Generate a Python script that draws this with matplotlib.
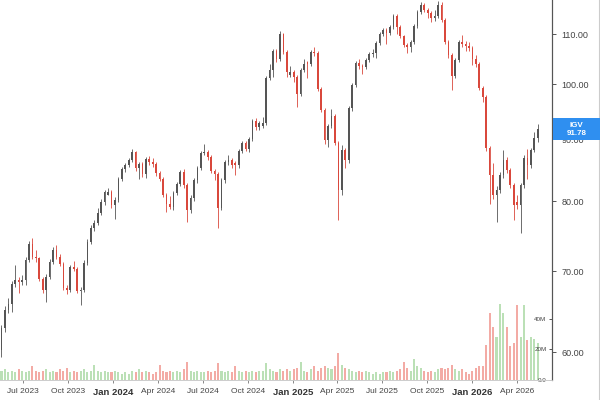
import matplotlib
matplotlib.use("Agg")
import matplotlib.pyplot as plt
import matplotlib.dates as mdates
import pandas as pd
from matplotlib.ticker import FixedLocator, NullLocator, FuncFormatter
from matplotlib.patches import Rectangle
from matplotlib.lines import Line2D

plt.rcParams['font.family'] = ['Liberation Sans', 'DejaVu Sans']

# ---- data: weekly OHLC of IGV ----
first_week = "2023-05-15"
opens = [60.26, 62.84, 65.04, 65.79, 68.34, 68.86, 68.60, 68.86, 71.53, 73.74,
         71.94, 71.80, 68.99, 67.56, 69.25, 71.26, 72.91, 71.94, 70.99, 67.82,
         67.56, 70.58, 70.31, 67.43, 67.56, 71.12, 74.02, 76.02, 76.75, 78.23,
         79.88, 81.00, 81.42, 79.42, 80.18, 83.46, 85.06, 85.71, 86.53, 87.86,
         85.22, 85.87, 84.25, 86.70, 86.20, 85.87, 84.41, 83.46, 80.95, 79.57,
         79.12, 81.26, 82.67, 84.57, 82.51, 78.67, 80.49, 83.30, 85.22, 87.69,
         87.86, 87.03, 84.73, 84.25, 78.97, 83.30, 86.20, 86.53, 86.10, 85.71,
         88.03, 89.38, 88.36, 90.06, 93.20, 92.14, 92.30, 92.85, 101.15, 102.70,
         106.48, 104.88, 109.99, 106.28, 101.80, 102.31, 101.34, 98.11, 102.70, 104.30,
         103.88, 106.28, 106.08, 99.05, 95.17, 89.89, 92.32, 94.09, 89.38, 81.73,
         88.19, 86.53, 95.53, 99.81, 104.08, 103.49, 103.29, 104.68, 105.88, 106.08,
         108.11, 109.99, 110.83, 110.20, 111.47, 113.84, 111.47, 109.56, 107.70, 107.29,
         108.32, 111.68, 114.71, 116.27, 115.15, 114.49, 113.40, 113.84, 116.27, 112.97,
         108.32, 105.68, 101.54, 104.68, 108.32, 107.91, 107.50, 107.09, 104.88, 103.88,
         99.24, 97.56, 88.53, 84.09, 80.95, 81.73, 84.09, 86.53, 84.90, 82.51,
         79.90, 79.42, 82.51, 86.86, 85.71, 88.19, 90.23]
highs = [63.2, 65.5, 66.5, 68.7, 70.9, 69.2, 69.5, 71.9, 74.2, 74.6,
         72.9, 72.0, 69.3, 69.6, 71.6, 73.3, 73.6, 72.3, 71.3, 68.2,
         70.9, 71.4, 70.6, 67.9, 71.5, 74.4, 76.4, 77.2, 78.9, 80.3,
         81.8, 82.1, 81.8, 80.6, 83.8, 85.4, 86.1, 86.9, 88.4, 88.1,
         86.2, 86.2, 87.0, 87.2, 86.8, 86.2, 84.8, 83.8, 81.3, 80.8,
         81.6, 83.0, 84.9, 85.1, 82.8, 80.9, 83.6, 85.6, 88.1, 89.2,
         88.2, 87.4, 85.1, 84.6, 83.6, 86.6, 87.3, 86.9, 86.4, 88.4,
         89.8, 89.8, 90.5, 93.6, 93.7, 93.3, 94.0, 101.5, 104.0, 106.9,
         106.9, 110.7, 110.3, 106.7, 103.5, 102.7, 101.7, 103.1, 105.0, 104.6,
         106.7, 107.4, 106.5, 99.4, 95.5, 92.7, 95.4, 94.4, 89.7, 89.0,
         88.6, 95.9, 100.2, 104.5, 104.9, 103.9, 105.1, 106.3, 106.9, 108.5,
         110.4, 111.3, 111.2, 111.9, 114.3, 114.3, 111.9, 109.9, 108.1, 108.7,
         112.1, 115.2, 117.0, 116.7, 115.6, 114.9, 115.2, 117.1, 117.0, 113.4,
         108.7, 106.1, 105.1, 108.8, 109.8, 108.5, 108.4, 107.5, 105.7, 104.3,
         99.6, 98.0, 88.9, 86.0, 82.3, 84.6, 88.2, 87.0, 85.3, 82.9,
         80.9, 82.9, 87.3, 88.3, 88.6, 91.2, 92.6]
lows = [59.5, 62.3, 64.6, 64.8, 68.0, 67.2, 68.2, 68.2, 71.2, 71.6,
        71.3, 68.7, 67.2, 66.0, 69.0, 71.0, 71.6, 70.7, 67.5, 67.0,
        67.3, 70.0, 67.1, 65.7, 67.3, 70.9, 73.7, 75.6, 76.4, 77.9,
        79.5, 80.9, 79.0, 77.4, 79.9, 83.1, 84.6, 85.4, 86.2, 84.8,
        83.5, 83.8, 83.7, 85.8, 85.4, 84.0, 83.1, 80.6, 78.4, 78.8,
        78.7, 80.9, 82.3, 82.1, 76.9, 78.3, 80.1, 82.9, 84.9, 87.3,
        86.6, 84.4, 83.3, 76.0, 78.6, 82.9, 85.8, 85.3, 84.1, 85.3,
        87.7, 88.0, 87.9, 89.7, 91.6, 91.7, 91.9, 92.5, 100.8, 101.3,
        104.4, 104.5, 105.9, 101.3, 101.4, 100.5, 95.8, 97.7, 102.3, 101.2,
        103.5, 105.6, 98.7, 94.8, 89.2, 88.7, 91.9, 89.0, 77.2, 81.0,
        85.3, 86.0, 95.1, 99.4, 103.0, 102.0, 102.9, 104.3, 105.3, 105.1,
        107.7, 109.6, 108.0, 109.8, 111.1, 110.0, 109.2, 107.3, 106.1, 106.4,
        107.9, 111.3, 114.3, 114.7, 113.5, 112.6, 112.8, 113.4, 112.5, 107.9,
        105.1, 98.9, 101.1, 104.3, 107.3, 106.5, 106.6, 103.7, 103.3, 98.8,
        96.7, 88.0, 79.6, 80.4, 76.9, 81.2, 83.7, 84.4, 82.0, 77.2,
        78.8, 75.3, 82.1, 83.5, 85.2, 87.9, 89.6]
closes = [62.84, 65.04, 65.79, 68.34, 68.86, 68.60, 68.86, 71.53, 73.74, 71.94,
          71.80, 68.99, 67.56, 69.25, 71.26, 72.91, 71.94, 70.99, 67.82, 67.56,
          70.58, 70.31, 67.43, 67.56, 71.12, 74.02, 76.02, 76.75, 78.23, 79.88,
          81.42, 81.42, 79.42, 80.18, 83.46, 85.06, 85.71, 86.53, 87.86, 85.22,
          85.87, 84.25, 86.70, 86.20, 85.87, 84.41, 83.46, 80.95, 79.57, 79.12,
          81.26, 82.67, 84.57, 82.51, 78.67, 80.49, 83.30, 85.22, 87.69, 87.86,
          87.03, 84.73, 84.25, 78.97, 83.30, 86.20, 86.53, 85.71, 85.71, 88.03,
          89.38, 88.36, 90.06, 93.20, 92.14, 92.85, 92.85, 101.15, 102.70, 106.48,
          104.88, 109.99, 106.28, 102.31, 102.31, 101.34, 98.11, 102.70, 103.88, 103.88,
          106.28, 106.08, 99.05, 95.17, 89.89, 92.32, 94.09, 89.38, 81.73, 88.19,
          86.53, 95.53, 99.81, 104.08, 103.49, 103.29, 104.68, 105.88, 106.08, 108.11,
          109.99, 110.83, 110.20, 111.47, 113.84, 111.47, 109.56, 107.70, 107.29, 108.32,
          111.68, 114.71, 116.27, 115.15, 114.49, 113.40, 113.84, 116.27, 112.97, 108.32,
          105.68, 101.54, 104.68, 108.32, 107.91, 107.50, 107.09, 104.88, 103.88, 99.24,
          97.56, 88.53, 84.09, 80.95, 81.73, 84.09, 86.53, 84.90, 82.51, 79.42,
          79.42, 82.51, 86.86, 85.71, 88.19, 90.23, 91.78]
volumes_m = [6, 7, 5, 6, 5, 7, 6, 5, 6, 9,
             6, 5, 6, 7, 5, 6, 5, 7, 6, 8,
             5, 6, 5, 6, 7, 5, 6, 10, 6, 5,
             6, 5, 5, 6, 5, 4, 5, 4, 6, 5,
             7, 5, 6, 5, 4, 5, 10, 6, 5, 6,
             5, 6, 5, 7, 12, 6, 5, 6, 5, 5,
             6, 5, 6, 11, 6, 5, 6, 5, 9, 6,
             5, 6, 5, 6, 5, 6, 6, 11, 7, 6,
             5, 7, 6, 7, 6, 7, 8, 12, 6, 5,
             7, 9, 6, 8, 9, 8, 7, 9, 18, 10,
             8, 7, 6, 5, 6, 5, 6, 5, 4, 5,
             4, 5, 5, 6, 5, 6, 7, 12, 8, 6,
             14, 9, 8, 6, 5, 6, 5, 7, 8, 7,
             8, 10, 7, 6, 7, 5, 4, 6, 8, 9,
             9, 23, 44, 35, 28, 50, 44, 35, 22, 24,
             49, 28, 49, 26, 28, 27, 24]

ticker = "IGV"
last_price = 91.78
price_ticks = [60, 70, 80, 90, 100, 110]
volume_ticks = [0, 20, 40]
volume_labels = ["0.0", "20M", "40M"]
xtick_dates = ["2023-07-01", "2023-10-01", "2024-01-01", "2024-04-01", "2024-07-01",
               "2024-10-01", "2025-01-01", "2025-04-01", "2025-07-01", "2025-10-01",
               "2026-01-01", "2026-04-01"]
xtick_labels = ["Jul 2023", "Oct 2023", "Jan 2024", "Apr 2024", "Jul 2024", "Oct 2024",
                "Jan 2025", "Apr 2025", "Jul 2025", "Oct 2025", "Jan 2026", "Apr 2026"]

# ---- figure ----
W, H = 600, 400
fig = plt.figure(figsize=(6, 4), dpi=100)
fig.patch.set_facecolor("white")
ax = fig.add_axes([0, 20 / H, 552 / W, 380 / H])
axv = ax.twinx()
ax.set_zorder(axv.get_zorder() + 1)
ax.patch.set_visible(False)

n = len(closes)
weeks = pd.date_range(first_week, periods=n, freq="7D")
xs = mdates.date2num(weeks) + 3.0

up_col, down_col = "#555555", "#d9483c"
vup_col, vdown_col = "#b4ddae", "#f2a29b"
is_up = [c >= o for o, c in zip(opens, closes)]
cols = [up_col if u else down_col for u in is_up]
vcols = [vup_col if u else vdown_col for u in is_up]

ax.set_yscale("log")
ax.vlines(xs, lows, highs, colors=cols, linewidth=0.6, zorder=3)
bottoms = [min(o, c) for o, c in zip(opens, closes)]
heights = [max(abs(c - o), 0.12) for o, c in zip(opens, closes)]
ax.bar(xs, heights, bottom=bottoms, width=3.4, color=cols, linewidth=0, zorder=4)

axv.bar(xs, volumes_m, width=4.2, color=vcols, linewidth=0, alpha=0.9)

xmin = mdates.date2num(pd.Timestamp("2023-05-15"))
xmax = mdates.date2num(pd.Timestamp("2026-06-12"))
ax.set_xlim(xmin, xmax)
ax.set_ylim(56.9, 117.4)
axv.set_ylim(0, 249)

# price axis (right, outside)
ax.yaxis.tick_right()
ax.yaxis.set_major_locator(FixedLocator(price_ticks))
ax.yaxis.set_minor_locator(NullLocator())
ax.yaxis.set_major_formatter(FuncFormatter(lambda v, p: f"{v:.2f}"))
ax.tick_params(axis="y", which="both", direction="out", length=3, width=0.7,
               color="#555555", labelsize=6.5, labelcolor="#444444", pad=4)

# volume axis (inside, left of the spine)
axv.yaxis.set_major_locator(FixedLocator(volume_ticks))
axv.set_yticklabels(volume_labels)
axv.tick_params(axis="y", direction="in", length=2.5, width=0.7, color="#555555",
                labelsize=4.5, labelcolor="#444444", pad=-4)
for lbl in axv.get_yticklabels():
    lbl.set_horizontalalignment("right")

# x axis
ax.set_xticks(mdates.date2num(pd.to_datetime(xtick_dates)))
ax.set_xticklabels(xtick_labels)
ax.tick_params(axis="x", direction="out", length=2.5, width=0.7, color="#888888",
               labelsize=6, labelcolor="#444444", pad=3)
for lbl in ax.get_xticklabels():
    if lbl.get_text().startswith("Jan"):
        lbl.set_fontweight("bold")
        lbl.set_fontsize(6.8)
        lbl.set_color("#333333")

for a in (ax, axv):
    for s in ("top", "left"):
        a.spines[s].set_visible(False)
    a.spines["right"].set_color("#555555")
    a.spines["right"].set_linewidth(0.8)
    a.spines["bottom"].set_color("#cccccc")
    a.spines["bottom"].set_linewidth(0.6)
axv.tick_params(axis="x", bottom=False, labelbottom=False)

# last price label box
fig.canvas.draw()
ypix = ax.transData.transform((xmin, last_price))[1]
fig.patches.append(Rectangle((553 / W, (ypix - 11) / H), 47 / W, 22 / H,
                             transform=fig.transFigure, facecolor="#2f8ff0",
                             edgecolor="none", zorder=10))
fig.text(576.5 / W, ypix / H, f"{ticker}\n{last_price:.2f}", ha="center", va="center",
         color="white", fontsize=5.8, fontweight="bold", linespacing=1.15, zorder=11)

# right frame line
fig.add_artist(Line2D([598.5 / W, 598.5 / W], [0, 1], transform=fig.transFigure,
                      color="#cccccc", linewidth=0.8))

fig.savefig("out.png", dpi=100, facecolor="white")
